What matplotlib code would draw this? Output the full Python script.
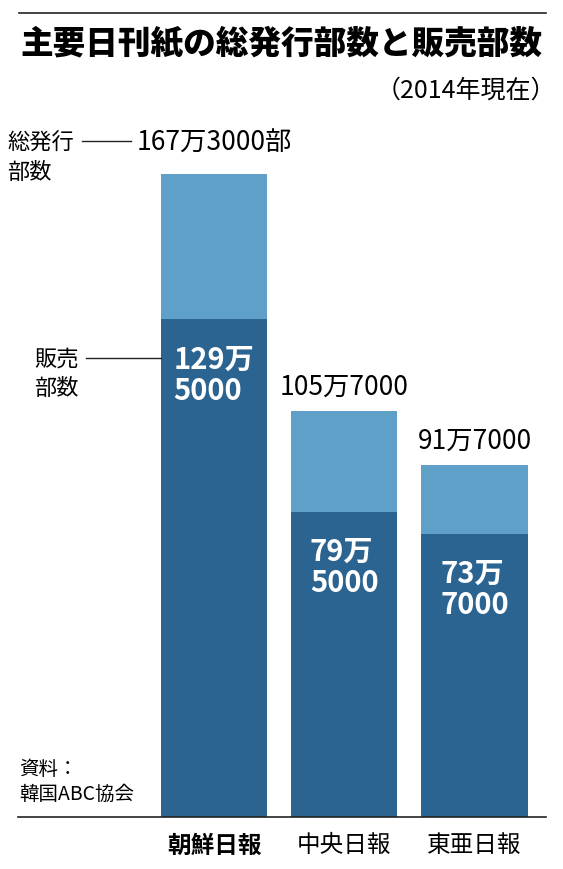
import matplotlib
matplotlib.use("Agg")
import matplotlib.pyplot as plt
from matplotlib.lines import Line2D

plt.rcParams['font.family'] = ['Noto Sans CJK JP', 'DejaVu Sans']

# data (unit: 10,000 copies)
papers = ["朝鮮日報", "中央日報", "東亜日報"]
circulation = [167.3, 105.7, 91.7]
sales = [129.5, 79.5, 73.7]
circ_labels = ["167万3000部", "105万7000", "91万7000"]
sales_labels = ["129万\n5000", "79万\n5000", "73万\n7000"]

light = "#5fa0c8"
dark = "#2c6491"

W, H = 563, 869
fig = plt.figure(figsize=(W / 100, H / 100), dpi=100)

def fx(x):
	return x / W

def fy(y):
	# pixel from top -> figure fraction
	return 1 - y / H

# axes placed so the baseline sits at y=817px
ax = fig.add_axes([fx(18), fy(817), fx(528), (817 - 120) / H])
x = list(range(len(papers)))
ax.bar(x, sales, width=0.814, color=dark, linewidth=0)
ax.bar(x, [c - s for c, s in zip(circulation, sales)], bottom=sales,
	width=0.814, color=light, linewidth=0)
ax.set_xlim(-1.505, 2.549)
ax.set_ylim(0, 181.4)
for s in ["top", "left", "right"]:
	ax.spines[s].set_visible(False)
ax.spines["bottom"].set_color("#222222")
ax.spines["bottom"].set_linewidth(1.2)
ax.set_xticks(x)
ax.set_xticklabels(papers, fontsize=17)
ax.get_xticklabels()[0].set_fontweight("bold")
ax.tick_params(axis="x", length=0, pad=12)
ax.set_yticks([])

# value labels
label_offsets = [22, 17, 17]
for i in x:
	ax.annotate(circ_labels[i], (i, circulation[i]), xytext=(0, label_offsets[i]),
		textcoords="offset points", ha="center", va="center", fontsize=19)
	ax.annotate(sales_labels[i], (i, sales[i]), xytext=(0, -40),
		textcoords="offset points", ha="center", va="center", fontsize=21,
		fontweight="bold", color="white", multialignment="left", linespacing=1.05)

# title and notes
fig.add_artist(Line2D([fx(19), fx(546)], [fy(13), fy(13)], color="#222222", lw=1.2))
fig.text(fx(281), fy(44), "主要日刊紙の総発行部数と販売部数", ha="center", va="center",
	fontsize=23.5, fontweight="heavy")
fig.text(fx(556), fy(91), "（2014年現在）", ha="right", va="center", fontsize=18)

fig.text(fx(7), fy(158), "総発行\n部数", ha="left", va="center", fontsize=16, linespacing=1.35)
fig.add_artist(Line2D([fx(82), fx(131)], [fy(141), fy(141)], color="#222222", lw=1))
fig.text(fx(34), fy(374), "販売\n部数", ha="left", va="center", fontsize=16, linespacing=1.35)
fig.add_artist(Line2D([fx(86), fx(161)], [fy(358), fy(358)], color="#222222", lw=1))

fig.text(fx(19), fy(782), "資料：\n韓国ABC協会", ha="left", va="center", fontsize=14,
	linespacing=1.3)

fig.savefig("out.png", dpi=100)
